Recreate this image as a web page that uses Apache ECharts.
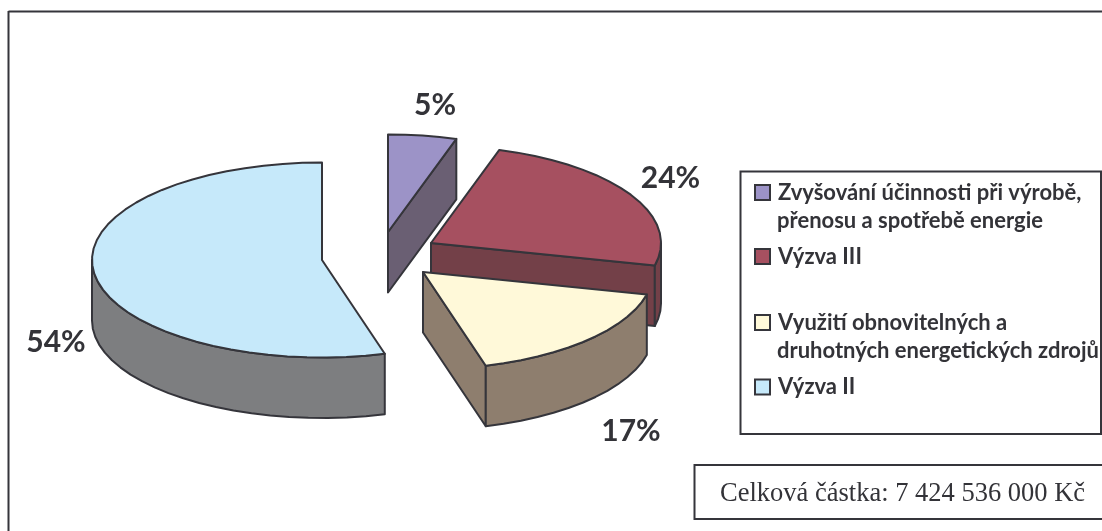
<!DOCTYPE html>
<html><head><meta charset="utf-8">
<style>html,body{margin:0;padding:0;background:#fff}#c{width:1102px;height:531px}</style>
<script src="https://cdn.jsdelivr.net/npm/echarts@6/dist/echarts.min.js"></script>
</head><body><div id="c"></div>
<script>
const categories = ['Zvyšování účinnosti při výrobě,', 'Výzva III', 'Využití obnovitelných a', 'Výzva II'];
const continuationLines = ['přenosu a spotřebě energie', '', 'druhotných energetických zdrojů', ''];
const sliceValues = [4.8, 23.9, 16.9, 54.4];
const sliceLabels = ['5%', '24%', '17%', '54%'];
const noteText = 'Celková částka: 7 424 536 000 Kč';

const topColors = ['#9C93C7', '#A65060', '#FFF9D9', '#C6E9FA'];
const sideColors = ['#6A5F73', '#734048', '#8E7E6E', '#7D7E80'];
const apexes = [[388, 232], [431, 243], [423, 272], [322, 260]];
const labelAnchors = [[435, 105], [670.5, 178], [631, 431], [56, 342]];
const legendTops = [181.5, 245.5, 311.5, 376];
const contTops = [221, 0, 351, 0];
const drawOrder = [3, 0, 1, 2];
const RX = 230, RY = 97.5, DEPTH = 60.5, STROKE = '#35353B', TEXT = '#333338';

const total = sliceValues.reduce((a, b) => a + b, 0);
let cum = 0;
const ranges = sliceValues.map(v => { const r = [cum / total * 360, (cum + v) / total * 360]; cum += v; return r; });

function pt(c, deg, dy) {
  const a = deg * Math.PI / 180;
  return [c[0] + RX * Math.sin(a), c[1] - RY * Math.cos(a) + (dy || 0)];
}
function arc(c, from, to, dy) {
  const out = [], n = Math.max(2, Math.ceil(Math.abs(to - from) / 5));
  for (let i = 0; i <= n; i++) out.push(pt(c, from + (to - from) * i / n, dy));
  return out;
}
function renderSlice(idx) {
  return function (params, api) {
    const start = api.value(0), end = api.value(1), c = apexes[idx], kids = [];
    const poly = (points, fill) => kids.push({
      type: 'polygon', shape: { points },
      style: { fill, stroke: STROKE, lineWidth: 2, lineJoin: 'round' }
    });
    const low = [c[0], c[1] + DEPTH];
    if (end < 180) {
      const e = pt(c, end);
      poly([c, e, [e[0], e[1] + DEPTH], low], sideColors[idx]);
    }
    const a = Math.max(start, 90), b = Math.min(end, 270);
    if (b > a) {
      poly(arc(c, a, b, 0).concat(arc(c, b, a, DEPTH)), sideColors[idx]);
    }
    poly([c].concat(arc(c, start, end, 0)), topColors[idx]);
    kids.push({
      type: 'text', x: labelAnchors[idx][0], y: labelAnchors[idx][1],
      style: { text: sliceLabels[idx], fill: TEXT, align: 'center', verticalAlign: 'middle',
               font: 'bold 30px Lato' }
    });
    return { type: 'group', children: kids };
  };
}

const series = drawOrder.map((idx, z) => ({
  type: 'custom', name: categories[idx], coordinateSystem: 'none', z: 3 + z,
  silent: true, animation: false,
  itemStyle: { color: topColors[idx] },
  data: [{ name: categories[idx], value: ranges[idx] }],
  renderItem: renderSlice(idx)
}));

const legendTextStyle = { fontFamily: 'Lato', fontWeight: 'bold', fontSize: 22, color: TEXT, padding: [0, 0, 3, 3] };
const legends = categories.map((name, i) => ({
  orient: 'vertical', left: 754, top: legendTops[i], itemWidth: 15, itemHeight: 15, padding: 0,
  selectedMode: false, icon: 'rect', data: [name], z: 20,
  itemStyle: { color: topColors[i], borderColor: STROKE, borderWidth: 2 },
  textStyle: legendTextStyle
}));

const graphics = [
  { type: 'line', shape: { x1: 8.5, y1: 11.5, x2: 1102, y2: 11.5 }, style: { stroke: STROKE, lineWidth: 2 } },
  { type: 'line', shape: { x1: 8.5, y1: 11, x2: 8.5, y2: 531 }, style: { stroke: STROKE, lineWidth: 2 } },
  { type: 'rect', shape: { x: 740.5, y: 171.5, width: 360.5, height: 262.5 }, style: { fill: '#fff', stroke: STROKE, lineWidth: 2 } },
  { type: 'rect', shape: { x: 694.5, y: 465, width: 420, height: 54 }, style: { fill: '#fff', stroke: STROKE, lineWidth: 2 } },
  { type: 'text', x: 720, y: 494, style: { text: noteText, fill: TEXT, font: '26.5px "Liberation Serif"', verticalAlign: 'middle' } }
];
continuationLines.forEach((t, i) => {
  if (t) graphics.push({ type: 'text', x: 777, y: contTops[i], z: 20,
    style: { text: t, fill: TEXT, font: 'bold 22px Lato', verticalAlign: 'middle' } });
});

const chart = echarts.init(document.getElementById('c'), null, { renderer: 'canvas' });
chart.setOption({
  backgroundColor: '#fff', animation: false,
  legend: legends, graphic: { elements: graphics }, series
});
</script></body></html>
